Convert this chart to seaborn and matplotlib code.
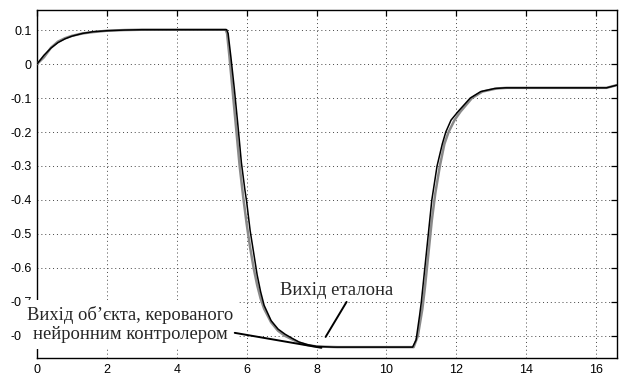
import matplotlib
matplotlib.use("Agg")
import matplotlib.pyplot as plt
import numpy as np
import pandas as pd
import seaborn as sns

# ---- data ----
t_obj = [0, 0.2, 0.4, 0.6, 0.8, 1.0, 1.3, 1.6, 2.0, 2.5, 3.0, 5.43, 5.47, 5.55,
         5.65, 5.75, 5.85, 5.95, 6.0, 6.1, 6.2, 6.3, 6.4, 6.5, 6.7, 6.9, 7.1,
         7.3, 7.5, 7.75, 8.0, 8.5, 10.75, 10.85, 10.95, 11.0, 11.1, 11.2, 11.3,
         11.45, 11.6, 11.7, 11.85, 12.05, 12.4, 12.7, 13.1, 13.4, 16.3, 16.6]
y_obj = [0, 0.026, 0.047, 0.063, 0.074, 0.082, 0.09, 0.095, 0.098, 0.1, 0.101,
         0.101, 0.09, 0.02, -0.075, -0.18, -0.29, -0.37, -0.405, -0.49, -0.555,
         -0.62, -0.67, -0.71, -0.755, -0.78, -0.795, -0.807, -0.818, -0.826,
         -0.831, -0.833, -0.833, -0.812, -0.74, -0.70, -0.60, -0.50, -0.40,
         -0.30, -0.235, -0.20, -0.165, -0.14, -0.10, -0.081, -0.072, -0.07,
         -0.07, -0.062]

t_ref = [0, 0.2, 0.4, 0.6, 0.8, 1.0, 1.3, 1.6, 2.0, 2.5, 3.0, 5.40, 5.44, 5.5,
         5.6, 5.7, 5.8, 5.9, 6.0, 6.1, 6.2, 6.3, 6.4, 6.5, 6.7, 6.9, 7.1, 7.3,
         7.5, 7.75, 8.0, 8.6, 10.78, 10.9, 11.03, 11.1, 11.2, 11.3, 11.4, 11.53,
         11.66, 11.78, 11.95, 12.12, 12.45, 12.75, 13.15, 13.45, 16.3, 16.6]
y_ref = [0, 0.02, 0.048, 0.066, 0.076, 0.083, 0.09, 0.094, 0.098, 0.1, 0.101,
         0.101, 0.09, 0.03, -0.08, -0.19, -0.30, -0.39, -0.47, -0.54, -0.60,
         -0.65, -0.69, -0.72, -0.76, -0.785, -0.80, -0.81, -0.82, -0.827,
         -0.831, -0.833, -0.833, -0.80, -0.72, -0.66, -0.56, -0.46, -0.38,
         -0.30, -0.235, -0.20, -0.165, -0.14, -0.10, -0.081, -0.072, -0.07,
         -0.07, -0.062]

x_ticks = [0, 2, 4, 6, 8, 10, 12, 14, 16]
x_tick_labels = ["0", "2", "4", "6", "8", "10", "12", "14", "16"]
y_ticks = [0.1, 0.0, -0.1, -0.2, -0.3, -0.4, -0.5, -0.6, -0.7, -0.8]
y_tick_labels = ["0.1", "0", "-0.1", "-0.2", "-0.3", "-0.4", "-0.5", "-0.6",
                 "-0.7", "-0.8"]

label_ref = "Вихід еталона"
label_obj = "Вихід об’єкта, керованого\nнейронним контролером"

# annotation anchor points (data coordinates)
ref_text_pos = (8.58, -0.665)
ref_line_start = (8.86, -0.700)
ref_line_end = (8.26, -0.803)
obj_text_pos = (2.67, -0.767)
obj_line_start = (5.66, -0.791)
obj_line_end = (8.14, -0.835)

# ---- plot ----
sns.set_theme(style="white")
plt.rcParams["font.family"] = ["Liberation Sans", "DejaVu Sans"]

fig = plt.figure(figsize=(6.19, 3.78), dpi=100)
ax = fig.add_axes([37 / 619, 1 - 358 / 378, 580 / 619, 348 / 378])

df_ref = pd.DataFrame({"t": t_ref, "y": y_ref})
df_obj = pd.DataFrame({"t": t_obj, "y": y_obj})
sns.lineplot(data=df_ref, x="t", y="y", ax=ax, color="#8a8a8a", lw=1.8,
             estimator=None, sort=False, zorder=3)
sns.lineplot(data=df_obj, x="t", y="y", ax=ax, color="black", lw=1.1,
             estimator=None, sort=False, zorder=4)

ax.set_xlim(0, 16.6)
ax.set_ylim(-0.865, 0.159)
ax.set_xticks(x_ticks)
ax.set_xticklabels(x_tick_labels)
ax.set_yticks(y_ticks)
ax.set_yticklabels(y_tick_labels)
ax.set_xlabel("")
ax.set_ylabel("")

for s in ax.spines.values():
    s.set_color("black")
    s.set_linewidth(1.0)
    s.set_visible(True)

ax.tick_params(direction="in", length=4, width=0.9, top=True, right=True,
               labelsize=9, colors="black", pad=4)
ax.grid(True, color="#444444", linestyle=(0, (1, 3)), lw=0.7)

serif = ["Liberation Serif", "DejaVu Serif"]
ax.text(*ref_text_pos, label_ref, family=serif, fontsize=13.4, ha="center",
        va="center", zorder=6,
        bbox=dict(facecolor="white", edgecolor="none", pad=1.5))
ax.text(*obj_text_pos, label_obj, family=serif, fontsize=13.3, ha="center",
        va="center", multialignment="center", linespacing=1.2, zorder=6,
        clip_on=False,
        bbox=dict(facecolor="white", edgecolor="none", pad=4))

ax.annotate("", xy=ref_line_end, xytext=ref_line_start,
            arrowprops=dict(arrowstyle="-", color="black", lw=1.4,
                            shrinkA=0, shrinkB=0), zorder=7)
ax.annotate("", xy=obj_line_end, xytext=obj_line_start,
            arrowprops=dict(arrowstyle="-", color="black", lw=1.4,
                            shrinkA=0, shrinkB=0), zorder=7)

fig.savefig("out.png", dpi=100)
